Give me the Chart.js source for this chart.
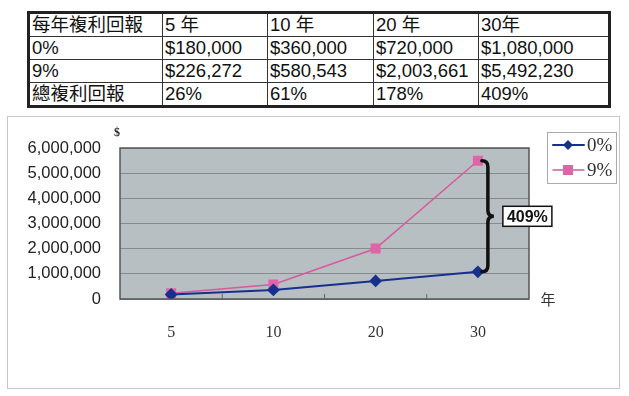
<!DOCTYPE html>
<html><head><meta charset="utf-8">
<script src="https://cdn.jsdelivr.net/npm/chart.js@4/dist/chart.umd.min.js"></script>
<style>
html,body{margin:0;padding:0;background:#fff;width:629px;height:396px;overflow:hidden;}
#frame{position:absolute;left:7px;top:116px;width:613px;height:273px;border:1px solid #c8c8c8;box-sizing:border-box;}
#c{position:absolute;left:0;top:0;}
table{position:absolute;left:27px;top:11px;border-collapse:collapse;border:3px solid #222;font-family:"Liberation Sans",Arial,"Noto Sans CJK TC",sans-serif;font-size:18.5px;color:#111;}
td{border:1px solid #333;padding:0 0 0 2px;height:22px;line-height:22px;white-space:nowrap;}
</style></head><body>
<div id="frame"></div>
<table id="tbl"></table>
<canvas id="c" width="629" height="396"></canvas>
<script>
const headerRow = ['每年複利回報','5 年','10 年','20 年','30年'];
const years = ['5','10','20','30'];
const seriesNames = ['0%','9%'];
const zeroPct = [180000,360000,720000,1080000];
const ninePct = [226272,580543,2003661,5492230];
const growthLabel = '總複利回報';
const growth = ['26%','61%','178%','409%'];
const colWidths = [133,105,106,105,130];

// build table
const tbl = document.getElementById('tbl');
function fmt(v){return '$'+v.toLocaleString('en-US');}
const rows = [headerRow,[seriesNames[0]].concat(zeroPct.map(fmt)),[seriesNames[1]].concat(ninePct.map(fmt)),[growthLabel].concat(growth)];
rows.forEach(r=>{const tr=document.createElement('tr');r.forEach((c,i)=>{const td=document.createElement('td');td.textContent=c;td.style.width=(colWidths[i]-3)+'px';tr.appendChild(td);});tbl.appendChild(tr);});

const navy='#16308c', pink='#d65a9c', pinkM='#e064a8';

const decor = {
  id:'decor',
  beforeDraw(chart){
    const {ctx, chartArea:a} = chart;
    ctx.save();
    ctx.fillStyle='#b7bfc3';
    ctx.fillRect(a.left,a.top,a.right-a.left,a.bottom-a.top);
    ctx.restore();
  },
  afterDatasetsDraw(chart){
    const {ctx, chartArea:a, scales:{x,y}} = chart;
    ctx.save();
    ctx.strokeStyle='#555';ctx.lineWidth=1.5;
    ctx.strokeRect(a.left,a.top,a.right-a.left,a.bottom-a.top);
    ctx.strokeStyle='#666';ctx.lineWidth=1;
    for(let i=1;i<years.length;i++){
      const px=(x.getPixelForValue(i-1)+x.getPixelForValue(i))/2;
      ctx.beginPath();ctx.moveTo(px,a.bottom);ctx.lineTo(px,a.bottom-5);ctx.stroke();
    }
    ctx.fillStyle='#222';ctx.font='bold 12px "Liberation Serif"';ctx.textAlign='center';ctx.textBaseline='middle';
    ctx.fillText('$',a.left-3,a.top-15);
    ctx.font='15px "Noto Sans CJK TC"';ctx.fillStyle='#333';
    ctx.fillText('年',a.right+19,a.bottom);
    // bracket
    const last=years.length-1;
    const bx=x.getPixelForValue(last)+4;
    const yt=y.getPixelForValue(ninePct[last]);
    const yb=y.getPixelForValue(zeroPct[last]);
    const ym=(yt+yb)/2, r=6;
    ctx.strokeStyle='#111';ctx.lineWidth=3.5;ctx.lineCap='round';
    ctx.beginPath();
    ctx.moveTo(bx,yt);
    ctx.quadraticCurveTo(bx+r,yt,bx+r,yt+r);
    ctx.lineTo(bx+r,ym-r);
    ctx.quadraticCurveTo(bx+r,ym,bx+2*r,ym);
    ctx.quadraticCurveTo(bx+r,ym,bx+r,ym+r);
    ctx.lineTo(bx+r,yb-r);
    ctx.quadraticCurveTo(bx+r,yb,bx,yb);
    ctx.stroke();
    const lx=bx+21, lw=49, lh=20;
    ctx.fillStyle='#fff';ctx.fillRect(lx,ym-lh/2,lw,lh);
    ctx.lineWidth=1.5;ctx.strokeStyle='#111';ctx.strokeRect(lx,ym-lh/2,lw,lh);
    ctx.fillStyle='#111';ctx.font='bold 16px "Liberation Sans"';ctx.textAlign='center';
    ctx.fillText(growth[last],lx+lw/2,ym+1);
    // legend
    const L=547,T=132,W=69,H=51;
    ctx.fillStyle='#fff';ctx.fillRect(L,T,W,H);
    ctx.strokeStyle='#aaa';ctx.lineWidth=1;ctx.strokeRect(L+0.5,T+0.5,W,H);
    chart.data.datasets.forEach((ds,i)=>{
      const yy=T+13+i*25;
      ctx.strokeStyle=ds.borderColor;ctx.lineWidth=ds.borderWidth;
      ctx.beginPath();ctx.moveTo(L+6,yy);ctx.lineTo(L+37,yy);ctx.stroke();
      ctx.fillStyle=ds.pointBackgroundColor;
      const cx=L+21;
      if(ds.pointStyle==='rectRot'){
        ctx.beginPath();ctx.moveTo(cx,yy-5);ctx.lineTo(cx+5,yy);ctx.lineTo(cx,yy+5);ctx.lineTo(cx-5,yy);ctx.closePath();ctx.fill();
      } else {ctx.fillRect(cx-5,yy-5,10,10);}
      ctx.fillStyle='#333';ctx.font='19px "Liberation Serif"';ctx.textAlign='left';ctx.textBaseline='middle';
      ctx.fillText(ds.label,L+40,yy+1);
    });
    ctx.restore();
  }
};

new Chart(document.getElementById('c'),{
  type:'line',
  data:{labels:years,datasets:[
    {label:seriesNames[0],data:zeroPct,borderColor:navy,backgroundColor:navy,pointBackgroundColor:navy,pointBorderColor:navy,borderWidth:2,pointStyle:'rectRot',pointRadius:5,tension:0},
    {label:seriesNames[1],data:ninePct,borderColor:pink,backgroundColor:pinkM,pointBackgroundColor:pinkM,pointBorderColor:pinkM,borderWidth:1.5,pointStyle:'rect',pointRadius:6,tension:0}
  ]},
  options:{
    responsive:false,animation:false,devicePixelRatio:1,
    layout:{padding:{top:148,right:100,bottom:0,left:0}},
    plugins:{legend:{display:false},tooltip:{enabled:false}},
    scales:{
      x:{offset:true,grid:{display:false},border:{display:false},
        ticks:{padding:16,color:'#333',font:{family:'"Liberation Serif"',size:16}},
        afterFit(s){s.height=97;}},
      y:{min:0,max:6000000,grid:{color:'#848c90',lineWidth:1,drawTicks:false},border:{display:false},
        ticks:{stepSize:1000000,padding:19,color:'#222',font:{family:'"Liberation Sans"',size:16.5},
          callback:v=>v.toLocaleString('en-US')},
        afterFit(s){s.width=120;}}
    }
  },
  plugins:[decor]
});
</script>
</body></html>
